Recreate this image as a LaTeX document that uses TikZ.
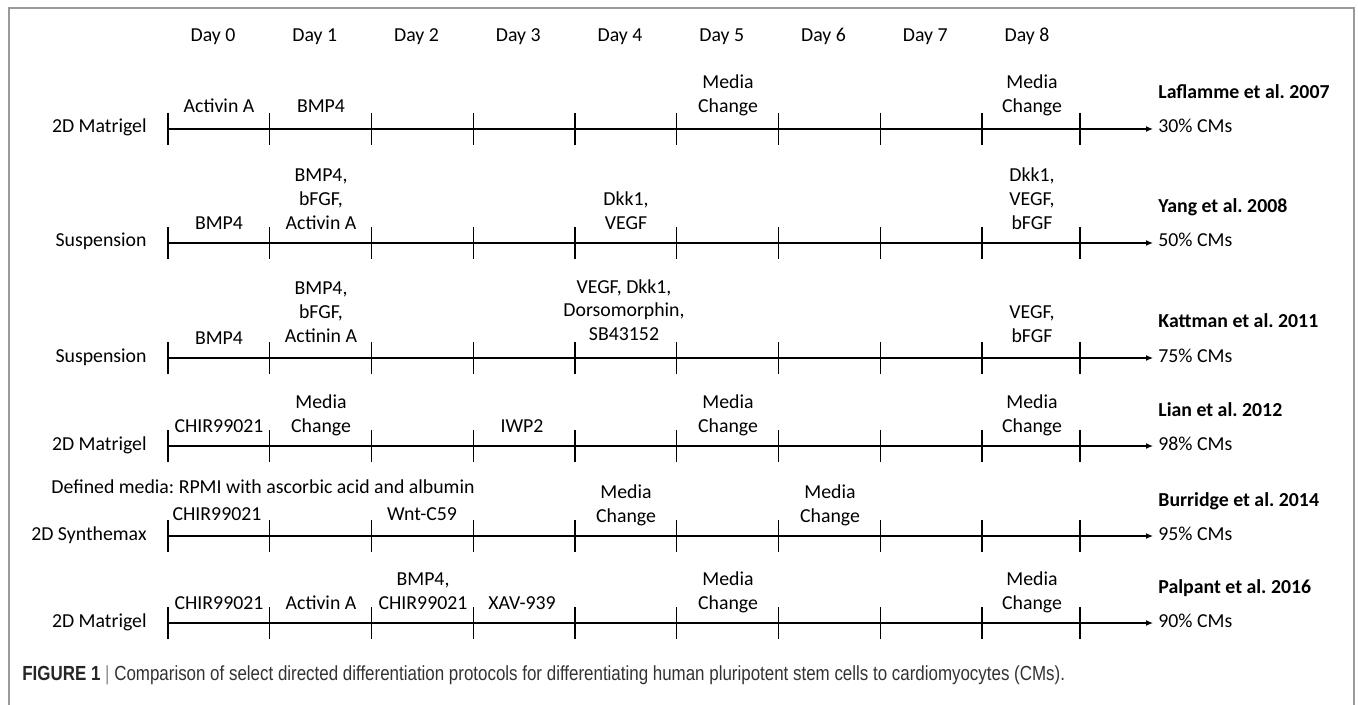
\documentclass[tikz,border=0pt]{standalone}
\usepackage{fontspec}
\setmainfont{Carlito}
\newfontfamily\capfont[FakeStretch=0.83]{Liberation Sans}
\usepackage{xcolor}
\usepackage{tikz}
\usetikzlibrary{arrows.meta}
\frenchspacing
\definecolor{frame}{HTML}{9A9A9A}
\definecolor{captxt}{HTML}{333333}
\definecolor{bar}{HTML}{8A8A8A}
\tikzset{
  axis/.style={draw=black, line width=0.65pt, -{Latex[length=3.5pt,width=3pt]}},
  tk/.style={draw=black, line width=0.65pt},
  box/.style={draw=frame, line width=0.8pt},
  day/.style={font=\fontsize{9.9}{12}\selectfont, anchor=base, inner sep=0pt},
  lab/.style={font=\fontsize{9.9}{12}\selectfont, align=center, anchor=base, inner sep=0pt},
  sub/.style={font=\fontsize{9.9}{12}\selectfont, anchor=base east, inner sep=0pt},
  ref/.style={font=\fontsize{9.9}{12}\selectfont\bfseries, anchor=base west, inner sep=0pt},
  yld/.style={font=\fontsize{9.9}{12}\selectfont, anchor=base west, inner sep=0pt}
}
\begin{document}
\begin{tikzpicture}[x=0.5pt, y=-0.5pt]
  \useasboundingbox (0,0) rectangle (1358,705);
  \draw[box] (9,712) -- (9,8) -- (1354,8) -- (1354,712);

  % days
  \foreach \i in {0,...,8}
    \node[day] (d\i) at ({213+101.75*\i},42) {Day \i};

  % timelines
  \foreach \r/\y in {1/129,2/243,3/358,4/446,5/536,6/623}{
    \coordinate (s\r) at (168,\y);
    \coordinate (e\r) at (1153,\y);
    \draw[axis] (s\r) -- (e\r);
    \foreach \i in {0,...,8}
      \draw[tk] ({168+101.75*\i},\y-16) -- ({168+101.75*\i},\y+16);
    \draw[tk] (1080,\y-16) -- (1080,\y+16);
  }

  % Laflamme
  \node[sub] (m1) at (147,133) {2D Matrigel};
  \node[lab] (a1) at (219,113) {Activin A};
  \node[lab] (b1) at (321,113) {BMP4};
  \node[lab] (c1) at (728,113) {Media\\Change};
  \node[lab] (f1) at (1032,113) {Media\\Change};
  \node[ref] (p1) at (1158,99) {Laflamme et al. 2007};
  \node[yld] (y1) at (1158,133) {30\% CMs};

  % Yang
  \node[sub] (m2) at (147,247) {Suspension};
  \node[lab] (a2) at (219,230) {BMP4};
  \node[lab] (b2) at (321,230) {BMP4,\\bFGF,\\Activin A};
  \node[lab] (c2) at (626,230) {Dkk1,\\VEGF};
  \node[lab] (f2) at (1032,230) {Dkk1,\\VEGF,\\bFGF};
  \node[ref] (p2) at (1158,213) {Yang et al. 2008};
  \node[yld] (y2) at (1158,247) {50\% CMs};

  % Kattman
  \node[sub] (m3) at (147,362) {Suspension};
  \node[lab] (a3) at (219,344) {BMP4};
  \node[lab] (b3) at (321,343) {BMP4,\\bFGF,\\Actinin A};
  \node[lab] (c3) at (624,341) {VEGF, Dkk1,\\Dorsomorphin,\\SB43152};
  \node[lab] (f3) at (1032,343) {VEGF,\\bFGF};
  \node[ref] (p3) at (1158,328) {Kattman et al. 2011};
  \node[yld] (y3) at (1158,362) {75\% CMs};

  % Lian
  \node[sub] (m4) at (147,450) {2D Matrigel};
  \node[lab] (a4) at (219,432) {CHIR99021};
  \node[lab] (b4) at (321,432) {Media\\Change};
  \node[lab] (c4) at (522,432) {IWP2};
  \node[lab] (e4) at (728,432) {Media\\Change};
  \node[lab] (f4) at (1032,432) {Media\\Change};
  \node[ref] (p4) at (1158,416) {Lian et al. 2012};
  \node[yld] (y4) at (1158,450) {98\% CMs};

  % Burridge
  \node[lab] (g5) at (263,493) {Defined media: RPMI with ascorbic acid and albumin};
  \node[sub] (m5) at (147,540) {2D Synthemax};
  \node[lab] (a5) at (217,520) {CHIR99021};
  \node[lab] (b5) at (422,520) {Wnt-C59};
  \node[lab] (c5) at (626,522) {Media\\Change};
  \node[lab] (f5) at (830,522) {Media\\Change};
  \node[ref] (p5) at (1158,506) {Burridge et al. 2014};
  \node[yld] (y5) at (1158,540) {95\% CMs};

  % Palpant
  \node[sub] (m6) at (147,627) {2D Matrigel};
  \node[lab] (a6) at (219,609) {CHIR99021};
  \node[lab] (b6) at (321,609) {Activin A};
  \node[lab] (c6) at (423,609) {BMP4,\\CHIR99021};
  \node[lab] (d6x) at (522,609) {XAV-939};
  \node[lab] (e6) at (728,609) {Media\\Change};
  \node[lab] (f6) at (1032,609) {Media\\Change};
  \node[ref] (p6) at (1158,593) {Palpant et al. 2016};
  \node[yld] (y6) at (1158,627) {90\% CMs};

  % caption
  \node[anchor=base west, inner sep=0pt, text=captxt, font=\capfont\fontsize{10.2}{12}\selectfont] (cap) at (22,680)
    {\textbf{\color{black!85}FIGURE 1} {\color{bar}|} Comparison of select directed differentiation protocols for differentiating human pluripotent stem cells to cardiomyocytes (CMs).};
\end{tikzpicture}
\end{document}
